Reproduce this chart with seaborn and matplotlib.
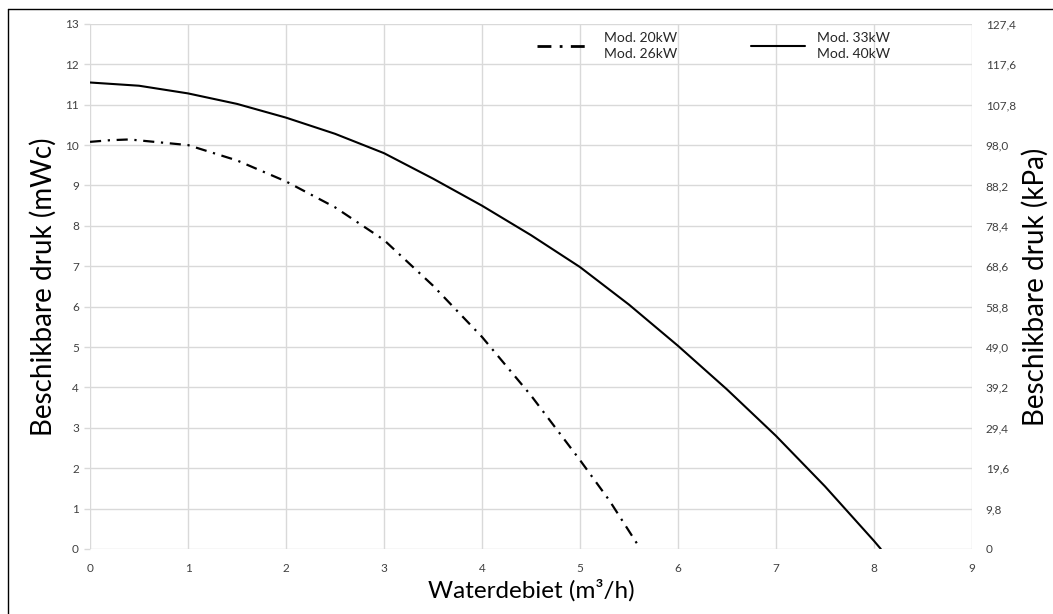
import matplotlib
matplotlib.use("Agg")
import matplotlib.pyplot as plt
import seaborn as sns
import pandas as pd
from matplotlib.lines import Line2D

# Data
flow_small = [0.0, 0.2, 0.4, 1.0, 1.5, 2.0, 2.5, 3.0, 3.5, 4.0, 4.5, 5.0, 5.3, 5.58]
head_small = [10.08, 10.12, 10.14, 10.0, 9.62, 9.1, 8.46, 7.65, 6.52, 5.25, 3.8, 2.2, 1.2, 0.14]

flow_large = [0.0, 0.5, 1.0, 1.5, 2.0, 2.5, 3.0, 3.5, 4.0, 4.5, 5.0, 5.5, 6.0, 6.5, 7.0, 7.5, 8.0, 8.07]
head_large = [11.55, 11.47, 11.28, 11.02, 10.68, 10.28, 9.8, 9.17, 8.5, 7.77, 6.98, 6.05, 5.03, 3.95, 2.8, 1.55, 0.2, 0.0]

label_small = "Mod. 20kW\nMod. 26kW"
label_large = "Mod. 33kW\nMod. 40kW"

x_ticks = list(range(0, 10))
y_ticks = list(range(0, 14))
kpa_labels = ["0", "9,8", "19,6", "29,4", "39,2", "49,0", "58,8", "68,6",
              "78,4", "88,2", "98,0", "107,8", "117,6", "127,4"]

sns.set_theme(style="white")
plt.rcParams['font.family'] = ['Lato', 'DejaVu Sans']

fig = plt.figure(figsize=(10.53, 6.14), dpi=100)
ax = fig.add_axes([0.0855, 0.106, 0.8375, 0.855])

df_s = pd.DataFrame({"x": flow_small, "y": head_small})
df_l = pd.DataFrame({"x": flow_large, "y": head_large})

sns.lineplot(data=df_s, x="x", y="y", ax=ax, color="black", lw=1.6, zorder=3)
sns.lineplot(data=df_l, x="x", y="y", ax=ax, color="black", lw=1.5, zorder=3)
ax.lines[0].set_dashes((5, 3, 1, 3))

ax.set_xlim(0, 9)
ax.set_ylim(0, 13)
ax.set_xticks(x_ticks)
ax.set_yticks(y_ticks)
ax.grid(True, color="#d9d9d9", lw=1)
for s in ax.spines.values():
    s.set_visible(False)
ax.tick_params(axis="x", labelsize=8.5, labelcolor="#404040", length=0, pad=10)
ax.tick_params(axis="y", labelsize=8.5, labelcolor="#404040", length=4,
               color="#d9d9d9", width=1, pad=4)

ax.set_xlabel("Waterdebiet (m³/h)", fontsize=17.5, color="black", labelpad=4)
ax.set_ylabel("Beschikbare druk (mWc)", fontsize=20, color="black", labelpad=6)

ax2 = ax.twinx()
ax2.set_ylim(0, 13)
ax2.set_yticks(y_ticks)
ax2.set_yticklabels(kpa_labels)
for s in ax2.spines.values():
    s.set_visible(False)
ax2.tick_params(axis="y", labelsize=8.5, labelcolor="#404040", length=0, pad=10)
ax2.set_ylabel("Beschikbare druk (kPa)", fontsize=20, color="black", labelpad=4)
ax2.grid(False)

handles = [Line2D([0], [0], color="black", lw=2, dashes=(5, 3, 1, 3)),
           Line2D([0], [0], color="black", lw=1.5)]
leg = ax.legend(handles, [label_small, label_large], ncol=2, frameon=False,
                loc="center left", bbox_to_anchor=(0.507, 0.958), borderaxespad=0,
                borderpad=0, fontsize=10, handlelength=3.9, columnspacing=5.3,
                handletextpad=0.9, labelspacing=0.2)
for t in leg.get_texts():
    t.set_linespacing(1.35)

# Figure frame (left and top edges)
fig.add_artist(Line2D([0.0075, 0.0075], [0.0, 0.986], color="black", lw=1, transform=fig.transFigure))
fig.add_artist(Line2D([0.0075, 1.0], [0.986, 0.986], color="black", lw=1, transform=fig.transFigure))

fig.savefig("out.png", dpi=100)
